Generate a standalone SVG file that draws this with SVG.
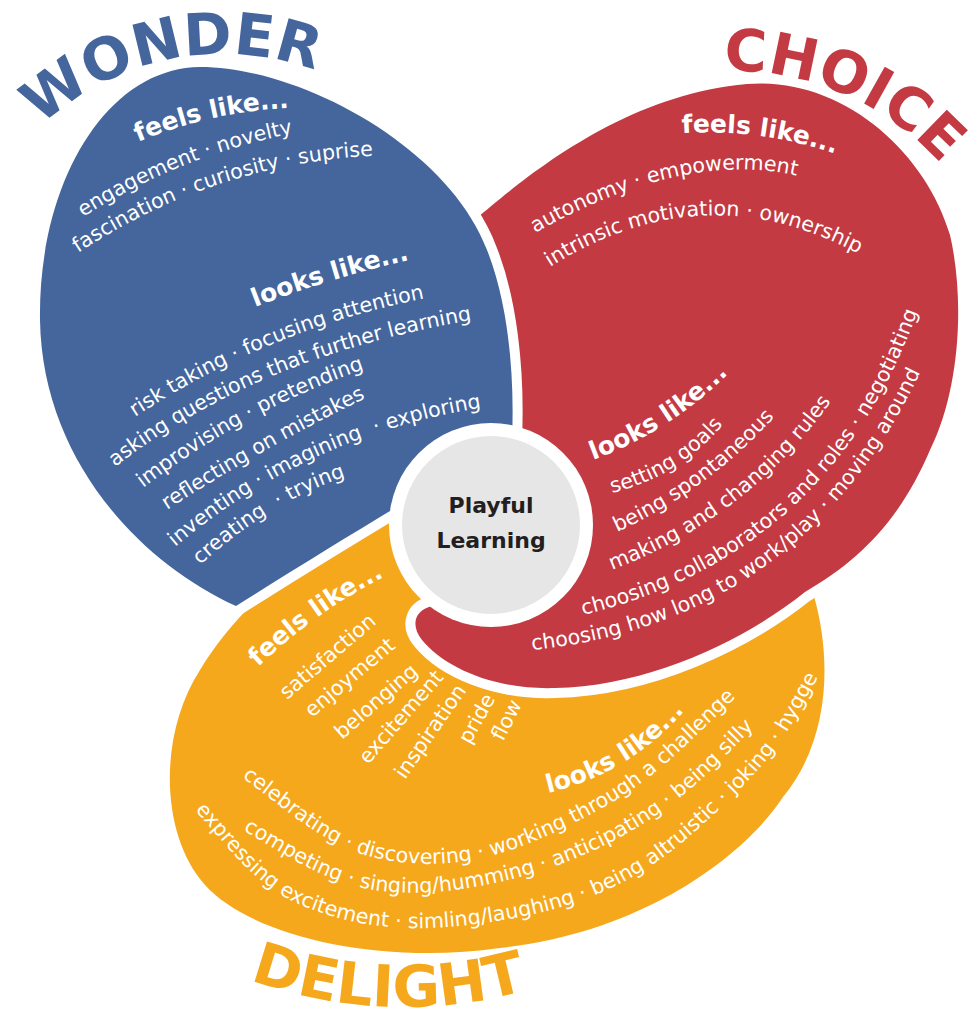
<svg xmlns="http://www.w3.org/2000/svg" width="972" height="1022" viewBox="0 0 972 1022">
<style>
.t{font-family:"DejaVu Sans","Liberation Sans",sans-serif;fill:#fff;font-size:20.6px}
.h{font-family:"DejaVu Sans","Liberation Sans",sans-serif;fill:#fff;font-size:25px;font-weight:bold}
.ti{font-family:"DejaVu Sans","Liberation Sans",sans-serif;font-weight:bold;font-size:58px}
.gap{stroke:#fff;stroke-width:20;paint-order:stroke;stroke-linejoin:round}
.blue{fill:#44669d}
.red{fill:#c33a43}
.orange{fill:#f6a81d}
</style>
<defs>
<path id="tw" d="M 15.6,154 A 265,265 0 0 1 349.5,86.1"/>
<path id="tc" d="M 656.1,81.8 A 279,279 0 0 1 983.8,227.7"/>
<path id="td" d="M 104.3,891.7 A 447,447 0 0 0 678.6,912.7"/>
<path id="bf" d="M 138,142 Q 209.5,112 287,108 l 40,-2"/>
<path id="b1" d="M 83,217 Q 179.1,156.1 290,134 l 50,-10"/>
<path id="b2" d="M 78,253 Q 210.3,165.5 367,156 l 50,-3"/>
<path id="bl" d="M 255,307 Q 328,278.5 409,260 l 40,-9"/>
<path id="b3" d="M 135,417 Q 269,328.5 427,298 l 50,-10"/>
<path id="b4" d="M 115,467 Q 256.5,356.5 472,320 l 50,-8"/>
<path id="b5" d="M 143,488 Q 248.5,408 368,368 l 45,-15"/>
<path id="b6" d="M 167,510 Q 264.5,446.5 368,397 l 45,-21"/>
<path id="b7" d="M 175,547 Q 310.6,432.8 487,407 l 50,-7"/>
<path id="b8" d="M 200,565 Q 271.5,501 345,477 l 45,-15"/>
<path id="rf" d="M 682,133 Q 757.6,128.5 830,152 l 40,13"/>
<path id="r1" d="M 535,233 Q 684.3,149.1 798,176 l 45,11"/>
<path id="r2" d="M 550,267 Q 701.5,171.9 855,252 l 40,21"/>
<path id="rl" d="M 593,460 Q 671.1,431 730,372 l 30,-30"/>
<path id="r3" d="M 612,493 Q 681.5,475.9 727,420 l 28,-34"/>
<path id="r4" d="M 617,532 Q 708.9,490.3 778,413 l 30,-34"/>
<path id="r5" d="M 612,570 Q 746.2,518.7 830,403 l 24,-33"/>
<path id="r6" d="M 583,615 Q 829.2,555.4 917,313 l 12,-34"/>
<path id="r7" d="M 532,650 Q 799.2,622.9 918,377 l 15,-31"/>
<path id="of" d="M 258,667 Q 313.4,613.3 382,578 l 40,-20"/>
<path id="ol" d="M 548,793 Q 631.3,773.1 687,708 l 30,-35"/>
<path id="o1" d="M 242,777 L 288.5,812.5 Q 335,848 372.5,857 Q 410,866 448.5,863 Q 487,860 528.5,843.5 Q 570,827 610,803.5 Q 650,780 692.5,739 L 735,698 l 40,-38"/>
<path id="o2" d="M 243,830 L 290.5,858 Q 338,886 381.5,891 Q 425,896 477.5,886.5 Q 530,877 575,858.5 Q 620,840 655,816 Q 690,792 722.5,759 L 755,726 l 35,-36"/>
<path id="o3" d="M 195,810 L 229,849 Q 263,888 296.5,903 Q 330,918 366,924 Q 402,930 441,927.5 Q 480,925 525,916 Q 570,907 610,888.5 Q 650,870 685,840 Q 720,810 748.5,780 Q 777,750 794.5,719 L 812,688 l 20,-36"/>
</defs>

<g id="delight">
<path class="orange" d="M 808,568 L 814,596 C 832,660 830,740 783,797 C 745,855 645,932 500,948 C 380,965 252,937 205,885 C 160,835 158,735 200,670 C 215,645 232,625 250,606 L 310,555 L 400,500 L 491,525 L 600,600 Z"/>
<text class="ti" style="fill:#f6a81d"><textPath href="#td" startOffset="50%" text-anchor="middle">DELIGHT</textPath></text>
<text class="h"><textPath href="#of">feels like...</textPath></text>
<text class="t" transform="translate(287,700) rotate(-40.5)">satisfaction</text>
<text class="t" transform="translate(312,718) rotate(-40)">enjoyment</text>
<text class="t" transform="translate(342,740) rotate(-41)">belonging</text>
<text class="t" transform="translate(368,765) rotate(-48.7)">excitement</text>
<text class="t" transform="translate(405,780) rotate(-55.4)">inspiration</text>
<text class="t" transform="translate(470,745) rotate(-61)">pride</text>
<text class="t" transform="translate(503,742) rotate(-63)">flow</text>
<text class="h"><textPath href="#ol">looks like...</textPath></text>
<text class="t"><textPath href="#o1">celebrating · discovering · working through a challenge</textPath></text>
<text class="t"><textPath href="#o2">competing · singing/humming · anticipating · being silly</textPath></text>
<text class="t"><textPath href="#o3">expressing excitement · simling/laughing · being altruistic · joking · hygge</textPath></text>
</g>

<g id="choice">
<path class="red gap" d="M 450,240 L 477,218 C 520,182 620,95 747,84 C 840,76 925,150 950,235 C 965,300 960,390 930,450 C 900,520 860,560 805,592 C 745,640 650,686 555,688 C 495,690 445,668 422,640 C 410,625 415,610 432,606 L 491,525 L 505,440 L 490,300 Z"/>
<text class="ti" style="fill:#c33a43"><textPath href="#tc" startOffset="49%" text-anchor="middle">CHOICE</textPath></text>
<text class="h"><textPath href="#rf">feels like...</textPath></text>
<text class="t"><textPath href="#r1">autonomy · empowerment</textPath></text>
<text class="t"><textPath href="#r2">intrinsic motivation · ownership</textPath></text>
<text class="h"><textPath href="#rl">looks like...</textPath></text>
<text class="t"><textPath href="#r3">setting goals</textPath></text>
<text class="t"><textPath href="#r4">being spontaneous</textPath></text>
<text class="t"><textPath href="#r5">making and changing rules</textPath></text>
<text class="t"><textPath href="#r6">choosing collaborators and roles · negotiating</textPath></text>
<text class="t"><textPath href="#r7">choosing how long to work/play · moving around</textPath></text>
</g>

<g id="wonder">
<path class="blue gap" d="M 236,606 C 135,560 42,455 40,320 C 38,185 105,68 200,67 C 300,67 448,147 487,250 C 507,300 515,370 512,440 L 500,520 L 400,505 C 350,535 290,572 236,606 Z"/>
<text class="ti" style="fill:#44669d"><textPath href="#tw" startOffset="50%" text-anchor="middle">WONDER</textPath></text>
<text class="h"><textPath href="#bf">feels like...</textPath></text>
<text class="t"><textPath href="#b1">engagement · novelty</textPath></text>
<text class="t"><textPath href="#b2">fascination · curiosity · suprise</textPath></text>
<text class="h"><textPath href="#bl">looks like...</textPath></text>
<text class="t"><textPath href="#b3">risk taking · focusing attention</textPath></text>
<text class="t"><textPath href="#b4">asking questions that further learning</textPath></text>
<text class="t"><textPath href="#b5">improvising · pretending</textPath></text>
<text class="t"><textPath href="#b6">reflecting on mistakes</textPath></text>
<text class="t"><textPath href="#b7">inventing · imagining&#160; · exploring</textPath></text>
<text class="t"><textPath href="#b8">creating&#160; · trying</textPath></text>
</g>

<g id="center">
<circle cx="491" cy="525" r="102" fill="#fff"/>
<circle cx="491" cy="525" r="89" fill="#e6e6e6"/>
<text x="491" y="513" text-anchor="middle" style="font-family:'DejaVu Sans','Liberation Sans',sans-serif;font-weight:bold;font-size:22px;fill:#231f20">Playful</text>
<text x="491" y="548" text-anchor="middle" style="font-family:'DejaVu Sans','Liberation Sans',sans-serif;font-weight:bold;font-size:22px;fill:#231f20">Learning</text>
</g>
<g id="connectors"/>
</svg>
